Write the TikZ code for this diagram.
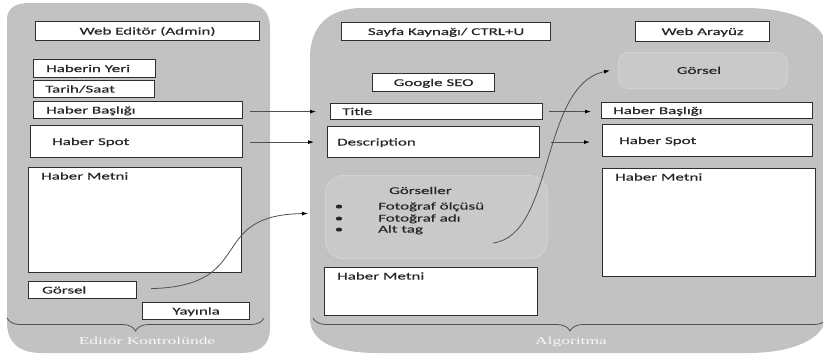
\documentclass[tikz,border=0pt]{standalone}
\usepackage{fontspec}
\setmainfont{Carlito}[FakeStretch=1.63,FakeBold=0.35]
\newfontfamily\captionserif{Liberation Serif}[FakeStretch=1.65]
\usetikzlibrary{arrows.meta,calc,decorations.pathreplacing}
\definecolor{panelfill}{HTML}{C2C2C2}
\definecolor{softfill}{HTML}{C9C9C9}
\definecolor{softedge}{HTML}{D2D2D2}
\definecolor{inkline}{HTML}{505050}
\definecolor{boxedge}{HTML}{2E2E2E}
\begin{document}
\begin{tikzpicture}[x=1pt,y=-1pt,
  panel/.style={fill=panelfill},
  field/.style={draw=boxedge,fill=white,line width=1.2pt,inner sep=0pt,anchor=north west},
  softbox/.style={draw=softedge,fill=softfill,line width=1pt,inner sep=0pt,anchor=north west},
  lbl/.style={font=\fontsize{10.4pt}{12pt}\selectfont,text=black!85,inner sep=0pt,anchor=base},
  lbll/.style={lbl,anchor=base west},
  captiontext/.style={font=\captionserif\fontsize{10.6pt}{12pt}\selectfont,text=white!94!gray,inner sep=0pt,anchor=base},
  conn/.style={draw=inkline,line width=0.8pt,-{Latex[length=6pt,width=4pt,color=black]}},
  bracket/.style={draw=inkline,line width=0.8pt,decorate,decoration={brace,mirror,amplitude=13pt}}
]
\useasboundingbox (0,0) rectangle (823,357);

% two background panels
\fill[panel] (7,20) .. controls (7,8) and (15,3) .. (30,3) -- (243,3)
  .. controls (262,3) and (270,12) .. (270,28) -- (270,328)
  .. controls (270,345) and (260,353) .. (240,353) -- (42,353)
  .. controls (18,353) and (7,342) .. (7,322) -- cycle;
\fill[panel] (310,58) .. controls (310,25) and (330,8) .. (362,8) -- (745,8)
  .. controls (790,8) and (826,22) .. (826,48) -- (826,315)
  .. controls (826,340) and (790,353) .. (748,353) -- (378,353)
  .. controls (335,353) and (310,342) .. (310,318) -- cycle;

% braces and panel captions
\draw[bracket] (7,318) -- (264,318);
\draw[bracket] (313,318) -- (827,318);
\node[captiontext] (capL) at (147,344) {Editör Kontrolünde};
\node[captiontext] (capR) at (571,344) {Algoritma};

% editor panel fields
\node[field,minimum width=224pt,minimum height=19pt] (webed) at (35,21) {};
\node[field,minimum width=122pt,minimum height=18pt] (yeri) at (33,59) {};
\node[field,minimum width=121pt,minimum height=17pt] (tarih) at (33,80) {};
\node[field,minimum width=209pt,minimum height=17pt] (hbas) at (33,101) {};
\node[field,minimum width=212pt,minimum height=32pt] (hspot) at (30,125) {};
\node[field,minimum width=213pt,minimum height=105pt] (hmet) at (28,167) {};
\node[field,minimum width=108pt,minimum height=17pt] (gors) at (28,281) {};
\node[field,minimum width=107pt,minimum height=17pt] (yay) at (142,302) {};

\node[lbl] (t-webed) at ($(webed.center)+(0,3.4)$) {Web Editör (Admin)};
\node[lbll] (t-yeri) at ($(yeri.west)+(13,3.4)$) {Haberin Yeri};
\node[lbll] (t-tarih) at ($(tarih.west)+(12,3.4)$) {Tarih/Saat};
\node[lbll] (t-hbas) at ($(hbas.west)+(13,3.4)$) {Haber Başlığı};
\node[lbll] (t-hspot) at ($(hspot.west)+(22,3.4)$) {Haber Spot};
\node[lbll] (t-hmet) at ($(hmet.north west)+(13,12.5)$) {Haber Metni};
\node[lbll] (t-gors) at ($(gors.west)+(14,3.4)$) {Görsel};
\node[lbl] (t-yay) at ($(yay.center)+(0,3.4)$) {Yayınla};

% page source panel
\node[field,minimum width=209pt,minimum height=18pt] (sayfa) at (341,22) {};
\node[field,minimum width=122pt,minimum height=18pt] (seo) at (372,73) {};
\node[field,minimum width=212pt,minimum height=16pt] (title) at (330,103) {};
\node[field,minimum width=212pt,minimum height=31pt] (desc) at (327,126) {};
\node[softbox,rounded corners=18pt,minimum width=222pt,minimum height=83pt] (gorseller) at (325,175) {};
\node[field,minimum width=213pt,minimum height=48pt] (hmet2) at (324,267) {};

\node[lbl] (t-sayfa) at ($(sayfa.center)+(0,3.4)$) {Sayfa Kaynağı/ CTRL+U};
\node[lbl] (t-seo) at ($(seo.center)+(0,3.4)$) {Google SEO};
\node[lbll] (t-title) at ($(title.west)+(12,3.4)$) {Title};
\node[lbll] (t-desc) at ($(desc.west)+(10,3.4)$) {Description};
\node[lbll] (t-gorh) at ($(gorseller.north west)+(64,19)$) {Görseller};
\node[lbl] (b1) at ($(gorseller.north west)+(14,34.5)$) {•};
\node[lbl] (b2) at ($(gorseller.north west)+(14,46.5)$) {•};
\node[lbl] (b3) at ($(gorseller.north west)+(14,57.5)$) {•};
\node[lbll] (i1) at ($(gorseller.north west)+(53,34.5)$) {Fotoğraf ölçüsü};
\node[lbll] (i2) at ($(gorseller.north west)+(53,46.5)$) {Fotoğraf adı};
\node[lbll] (i3) at ($(gorseller.north west)+(53,57.5)$) {Alt tag};
\node[lbll] (t-hmet2) at ($(hmet2.north west)+(13,12.5)$) {Haber Metni};

% web interface column
\node[field,minimum width=134pt,minimum height=20pt] (webar) at (635,21) {};
\node[softbox,rounded corners=10pt,minimum width=169pt,minimum height=36pt] (gorsel2) at (618,52) {};
\node[field,minimum width=211pt,minimum height=16pt] (hbas2) at (601,102) {};
\node[field,minimum width=210pt,minimum height=32pt] (hspot2) at (602,124) {};
\node[field,minimum width=213pt,minimum height=108pt] (hmet3) at (602,168) {};

\node[lbl] (t-webar) at ($(webar.center)+(0,3.4)$) {Web Arayüz};
\node[lbl] (t-gorsel2) at ($(gorsel2.center)+(-4,3.4)$) {Görsel};
\node[lbll] (t-hbas2) at ($(hbas2.west)+(12,3.4)$) {Haber Başlığı};
\node[lbll] (t-hspot2) at ($(hspot2.west)+(17,3.4)$) {Haber Spot};
\node[lbll] (t-hmet3) at ($(hmet3.north west)+(13,12.5)$) {Haber Metni};

% connectors
\draw[conn] ($(hbas.east |- title.west)+(7,0)$) -- ($(title.west)+(-14,0)$);
\draw[conn] ($(hspot.east |- desc.west)+(7,0)$) -- ($(desc.west)+(-13,0)$);
\draw[conn] ($(title.east)+(6,0)$) -- ($(title.east -| hbas2.west)+(-10,0)$);
\draw[conn] ($(desc.east)+(11,0)$) -- ($(desc.east -| hspot2.west)+(-12,0)$);
\draw[conn] ($(gors.east)+(14,-1.5)$) .. controls (258,286) and (205,215) .. ($(gorseller.west)+(-17,-3.5)$);
\draw[conn] ($(gorseller.south east)+(-55,-16)$) .. controls (555,235) and (540,85) .. ($(gorsel2.west)+(-8,0)$);
\end{tikzpicture}
\end{document}
